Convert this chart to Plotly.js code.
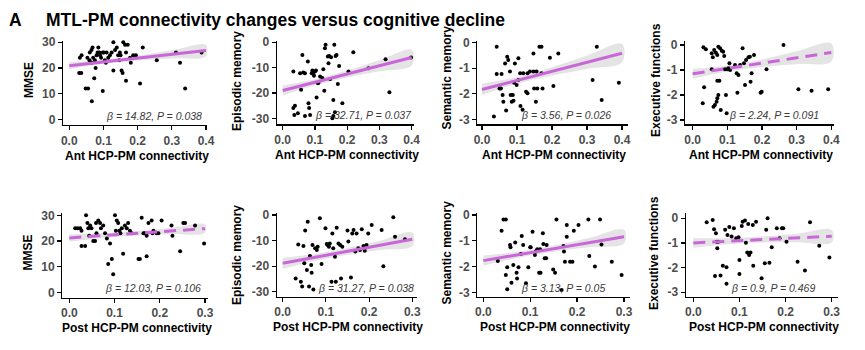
<!DOCTYPE html>
<html>
<head>
<meta charset="utf-8">
<script src="https://cdn.plot.ly/plotly-3.0.1.min.js"></script>
<style>html,body{margin:0;padding:0;background:#fff;}#chart{width:865px;height:350px;}</style>
</head>
<body>
<div id="chart"></div>
<script>
// ---------------- DATA ----------------
// Anterior HCP-PM connectivity (top row)
const ant_mmse_x = [0.031,0.036,0.029,0.035,0.048,0.055,0.053,0.060,0.065,0.068,0.059,0.065,0.070,0.075,0.073,0.066,0.077,0.080,0.083,0.085,0.088,0.090,0.093,0.098,0.098,0.101,0.104,0.107,0.109,0.114,0.119,0.124,0.129,0.129,0.134,0.139,0.143,0.146,0.148,0.150,0.153,0.156,0.158,0.163,0.166,0.166,0.171,0.178,0.180,0.187,0.195,0.207,0.215,0.256,0.312,0.324,0.339,0.387];
const ant_mmse_y = [24,25,18,18,12,12,24,26,27,28,23,22,24,23,16,7,20,25,26,28,26,25,24,11,26,26,23,22,26,24,25,26,30,19,27,28,25,23,26,25,19,18,30,29,15,26,29,24,22,25,25,14,28,23,26,22,12,26];

const ant_epi_x = [0.033,0.033,0.038,0.036,0.047,0.061,0.057,0.054,0.064,0.069,0.078,0.080,0.082,0.085,0.069,0.090,0.092,0.095,0.097,0.100,0.103,0.105,0.109,0.111,0.116,0.123,0.126,0.129,0.131,0.133,0.140,0.142,0.144,0.147,0.150,0.157,0.160,0.162,0.157,0.154,0.164,0.167,0.171,0.175,0.185,0.204,0.219,0.266,0.319,0.331,0.398];
const ant_epi_y = [-11.5,-25.9,-25.0,-28.6,-27.9,-5.0,-18.7,-12.2,-11.9,-12.2,-7.6,-24.0,-25.9,-28.6,-29.0,-12.2,-11.1,-11.9,-13.2,-11.5,-11.1,-21.7,-16.1,-15.9,-13.5,-14.1,-10.6,-19.1,-2.4,-1.0,-5.6,-8.3,-5.4,-14.5,-5.9,-22.7,-1.0,-27.6,-29.0,-29.9,-5.4,-5.0,-16.4,-9.3,-24.0,-11.5,-3.9,-10.2,-6.7,-19.7,-6.0];

const ant_sem_x = [0.042,0.034,0.042,0.056,0.050,0.054,0.059,0.061,0.069,0.066,0.072,0.075,0.080,0.082,0.085,0.088,0.090,0.092,0.094,0.099,0.104,0.104,0.109,0.110,0.116,0.118,0.126,0.130,0.130,0.137,0.147,0.147,0.149,0.154,0.156,0.158,0.164,0.170,0.170,0.173,0.194,0.204,0.218,0.316,0.328,0.342,0.391];
const ant_sem_y = [-0.16,-2.89,-1.23,-1.23,-1.79,-1.79,-2.05,-2.31,-2.66,-0.81,-0.55,-0.68,-1.13,-2.05,-2.31,-2.05,-2.27,-1.57,-0.81,-1.66,-0.61,-1.46,-1.20,-2.48,-2.63,-1.20,-1.92,-1.98,-1.20,-1.13,-1.13,-0.42,-1.79,-2.31,-1.13,-1.79,-0.16,-0.16,-1.20,-1.79,-0.59,-1.70,-0.42,-1.46,-0.16,-2.24,-1.57];

const ant_exe_x = [0.031,0.038,0.033,0.029,0.055,0.058,0.062,0.067,0.071,0.074,0.079,0.084,0.088,0.091,0.055,0.060,0.064,0.069,0.071,0.074,0.071,0.077,0.081,0.093,0.096,0.098,0.100,0.103,0.106,0.108,0.122,0.127,0.129,0.132,0.137,0.144,0.148,0.151,0.154,0.161,0.165,0.167,0.170,0.177,0.196,0.199,0.213,0.262,0.305,0.343,0.391];
const ant_exe_y = [-0.09,-0.17,-1.69,-2.33,-0.33,-0.49,-0.20,-0.31,-0.40,-0.07,-0.13,-0.23,-0.27,-0.44,-0.97,-2.47,-2.40,-2.27,-2.13,-2.00,-1.43,-1.43,-2.60,-0.97,-2.00,-2.73,-0.97,-0.93,-0.73,-1.00,-0.80,-1.13,-1.91,-1.20,-0.80,-0.13,-0.73,-1.60,-0.60,-0.49,-0.47,-1.47,-1.13,-0.40,-1.91,-1.87,-0.97,0.00,-1.77,-1.83,-1.77];

// Posterior HCP-PM connectivity (bottom row)
const post_mmse_x = [0.013,0.018,0.024,0.027,0.027,0.035,0.037,0.040,0.042,0.044,0.046,0.049,0.053,0.057,0.059,0.060,0.064,0.068,0.070,0.075,0.079,0.083,0.086,0.090,0.094,0.097,0.101,0.103,0.105,0.108,0.111,0.113,0.116,0.119,0.123,0.127,0.130,0.134,0.138,0.153,0.156,0.160,0.164,0.167,0.171,0.171,0.175,0.182,0.184,0.186,0.193,0.197,0.204,0.226,0.228,0.245,0.252,0.256,0.278,0.298];
const post_mmse_y = [25,25,25,24,18,18,30,27,25,22,26,25,20,20,27,23,28,27,25,26,23,21,11,19,13,7,30,24,28,27,24,23,25,15,26,25,27,24,23,13,13,29,23,23,14,22,27,28,23,24,23,23,28,26,22,16,27,27,26,19];

const post_epi_x = [0.030,0.036,0.042,0.045,0.048,0.050,0.052,0.056,0.058,0.061,0.063,0.066,0.067,0.069,0.071,0.075,0.079,0.081,0.086,0.090,0.099,0.102,0.104,0.107,0.109,0.113,0.115,0.117,0.121,0.123,0.125,0.129,0.133,0.135,0.138,0.150,0.152,0.158,0.161,0.164,0.168,0.171,0.175,0.179,0.183,0.187,0.190,0.194,0.198,0.206,0.229,0.233,0.256,0.260,0.283];
const post_epi_y = [-24.8,-11.5,-26.1,-28.0,-12.1,-18.9,-6.1,-21.5,-2.6,-28.0,-16.0,-19.6,-22.6,-11.7,-29.1,-13.0,-13.7,-12.4,-1.3,-19.2,-5.2,-11.3,-11.7,-12.4,-11.1,-26.1,-7.2,-13.0,-16.3,-26.1,-5.0,-11.1,-11.7,-24.8,-12.4,-6.1,-10.4,-24.4,-7.2,-5.9,-14.3,-7.2,-13.0,-13.7,-5.6,-12.1,-14.0,-11.7,-7.2,-3.9,-5.9,-20.0,-0.9,-8.5,-9.5];

const post_sem_x = [0.031,0.039,0.043,0.048,0.048,0.051,0.051,0.057,0.058,0.060,0.064,0.068,0.071,0.072,0.075,0.080,0.082,0.085,0.091,0.096,0.100,0.101,0.105,0.110,0.112,0.115,0.119,0.121,0.122,0.127,0.128,0.131,0.134,0.135,0.149,0.153,0.156,0.167,0.171,0.172,0.174,0.178,0.178,0.185,0.190,0.193,0.203,0.224,0.226,0.238,0.249,0.252,0.274,0.295];
const post_sem_y = [-1.78,-0.61,-0.17,-0.17,-2.33,-2.03,-2.88,-1.16,-1.25,-2.63,-1.94,-1.07,-2.24,-2.46,-2.03,-1.51,-0.81,-1.16,-2.65,-2.03,-1.25,-1.25,-0.65,-1.55,-1.42,-1.33,-2.24,-1.33,-2.24,-0.71,-1.13,-1.68,-1.68,-1.16,-2.11,-2.24,-0.17,-2.91,-1.20,-1.42,-1.81,-0.39,-0.84,-1.81,-1.81,-0.61,-0.39,-0.17,-1.59,-2.00,-0.17,-1.14,-1.81,-2.33];

const post_exe_x = [0.029,0.042,0.045,0.047,0.049,0.051,0.052,0.054,0.059,0.064,0.069,0.072,0.072,0.074,0.078,0.083,0.088,0.093,0.098,0.100,0.100,0.105,0.107,0.112,0.114,0.117,0.119,0.121,0.124,0.129,0.130,0.136,0.148,0.155,0.158,0.161,0.165,0.170,0.181,0.187,0.192,0.195,0.202,0.226,0.242,0.253,0.273,0.295];
const post_exe_y = [-0.16,-0.07,-0.45,-2.34,-0.61,-0.95,-1.22,-0.95,-2.32,-1.93,-0.47,-1.99,-2.66,-0.68,-0.36,-0.74,-0.41,-0.81,-0.77,-1.69,-2.26,-0.31,-0.14,-0.09,-0.99,-1.39,-0.23,-1.49,-1.39,-0.27,-1.93,-0.14,-2.43,-1.82,-0.47,0.00,-1.80,-1.18,-0.41,-0.81,-0.41,-0.41,-0.95,-1.76,-2.12,-0.16,-1.12,-1.59];

// Fitted regression lines and 95% CI bands
const fit_x_ant  = [0, 0.1, 0.2, 0.3, 0.4];
const fit_x_post = [0, 0.075, 0.15, 0.225, 0.3];

const fit_ant_mmse = [20.9, 22.4, 23.9, 25.3, 26.8];
const ci_hi_ant_mmse = [22.3, 23.2, 24.9, 26.9, 29.0];
const ci_lo_ant_mmse = [19.5, 21.6, 22.9, 23.7, 24.6];

const fit_ant_epi = [-19.0, -15.75, -12.5, -9.25, -6.0];
const ci_hi_ant_epi = [-17.0, -14.55, -11.1, -7.05, -3.0];
const ci_lo_ant_epi = [-21.0, -16.95, -13.9, -11.45, -9.0];

const fit_ant_sem = [-1.83, -1.475, -1.12, -0.765, -0.41];
const ci_hi_ant_sem = [-1.61, -1.345, -0.96, -0.505, -0.05];
const ci_lo_ant_sem = [-2.05, -1.605, -1.28, -1.025, -0.77];

const fit_ant_exe = [-1.15, -0.94, -0.725, -0.51, -0.30];
const ci_hi_ant_exe = [-0.95, -0.82, -0.575, -0.25, 0.06];
const ci_lo_ant_exe = [-1.35, -1.06, -0.875, -0.77, -0.66];

const fit_post_mmse = [21.2, 22.1, 23.0, 23.9, 24.8];
const ci_hi_post_mmse = [22.6, 23.0, 23.9, 25.1, 26.4];
const ci_lo_post_mmse = [19.8, 21.2, 22.1, 22.7, 23.2];

const fit_post_epi = [-18.9, -16.55, -14.2, -11.85, -9.5];
const ci_hi_post_epi = [-16.7, -15.25, -12.9, -10.05, -6.9];
const ci_lo_post_epi = [-21.1, -17.85, -15.5, -13.65, -12.1];

const fit_post_sem = [-1.77, -1.54, -1.305, -1.07, -0.84];
const ci_hi_post_sem = [-1.57, -1.42, -1.185, -0.89, -0.57];
const ci_lo_post_sem = [-1.97, -1.66, -1.425, -1.25, -1.11];

const fit_post_exe = [-1.0, -0.93, -0.865, -0.80, -0.73];
const ci_hi_post_exe = [-0.8, -0.81, -0.745, -0.63, -0.48];
const ci_lo_post_exe = [-1.2, -1.05, -0.985, -0.97, -0.98];

// Labels
const stat_labels = ["β = 14.82, P = 0.038","β = 32.71, P = 0.037","β = 3.56, P = 0.026","β = 2.24, P = 0.091",
                     "β = 12.03, P = 0.106","β = 31.27, P = 0.038","β = 3.13, P = 0.05","β = 0.9, P = 0.469"];
const significant = [true, true, true, false, false, true, true, false];
const y_titles = ["MMSE","Episodic memory","Semantic memory","Executive functions"];
const x_titles = ["Ant HCP-PM connectivity","Post HCP-PM connectivity"];
const x_ticks_ant = [0, 0.1, 0.2, 0.3, 0.4];
const x_ticklabels_ant = ["0.0","0.1","0.2","0.3","0.4"];
const x_ticks_post = [0, 0.1, 0.2, 0.3];
const x_ticklabels_post = ["0.0","0.1","0.2","0.3"];
const y_ticks_mmse = [0, 10, 20, 30];
const y_ticklabels_mmse = ["0","10","20","30"];
const y_ticks_epi = [0, -10, -20, -30];
const y_ticklabels_epi = ["0","-10","-20","-30"];
const y_ticks_cog = [0, -1, -2, -3];
const y_ticklabels_cog = ["0","-1","-2","-3"];
const fig_title = "MTL-PM connectivity changes versus cognitive decline";
const panel_letter = "A";

// ---------------- LAYOUT (pixels) ----------------
const W = 865, H = 350;
const FONT = "Liberation Sans, Arial, Helvetica, sans-serif";
const MAGENTA = "#C967D8";

const panels = [
  {px:[63,207.3], py:[41,125],   xr:[-0.0184,0.4038], yr:[-2.2,30.5],    xs:ant_mmse_x, ys:ant_mmse_y, fx:fit_x_ant, fy:fit_ant_mmse, hi:ci_hi_ant_mmse, lo:ci_lo_ant_mmse, yt:[y_ticks_mmse,y_ticklabels_mmse], xt:[x_ticks_ant,x_ticklabels_ant], ytl:0, xtl:0, ytc:[29,80],  st:[204,116]},
  {px:[276.7,414.3], py:[41,124.3], xr:[-0.0186,0.4081], yr:[-32.3,0.5], xs:ant_epi_x, ys:ant_epi_y, fx:fit_x_ant, fy:fit_ant_epi, hi:ci_hi_ant_epi, lo:ci_lo_ant_epi, yt:[y_ticks_epi,y_ticklabels_epi], xt:[x_ticks_ant,x_ticklabels_ant], ytl:1, xtl:0, ytc:[237,81], st:[414,115]},
  {px:[477.3,628.3], py:[41,124.3], xr:[-0.0134,0.418], yr:[-3.196,0.067], xs:ant_sem_x, ys:ant_sem_y, fx:fit_x_ant, fy:fit_ant_sem, hi:ci_hi_ant_sem, lo:ci_lo_ant_sem, yt:[y_ticks_cog,y_ticklabels_cog], xt:[x_ticks_ant,x_ticklabels_ant], ytl:2, xtl:0, ytc:[446.5,78], st:[612.7,115]},
  {px:[685,834], py:[41,124.3], xr:[-0.0222,0.4078], yr:[-3.17,0.16], xs:ant_exe_x, ys:ant_exe_y, fx:fit_x_ant, fy:fit_ant_exe, hi:ci_hi_ant_exe, lo:ci_lo_ant_exe, yt:[y_ticks_cog,y_ticklabels_cog], xt:[x_ticks_ant,x_ticklabels_ant], ytl:3, xtl:0, ytc:[656,80], st:[820.7,115]},
  {px:[62.3,208.3], py:[213.3,297.7], xr:[-0.0155,0.3073], yr:[-2.1,30.78], xs:post_mmse_x, ys:post_mmse_y, fx:fit_x_post, fy:fit_post_mmse, hi:ci_hi_post_mmse, lo:ci_lo_post_mmse, yt:[y_ticks_mmse,y_ticklabels_mmse], xt:[x_ticks_post,x_ticklabels_post], ytl:0, xtl:1, ytc:[27.5,253], st:[203.3,288.3]},
  {px:[276.7,416.7], py:[213.3,296.7], xr:[-0.0139,0.3102], yr:[-31.95,0.66], xs:post_epi_x, ys:post_epi_y, fx:fit_x_post, fy:fit_post_epi, hi:ci_hi_post_epi, lo:ci_lo_post_epi, yt:[y_ticks_epi,y_ticklabels_epi], xt:[x_ticks_post,x_ticklabels_post], ytl:1, xtl:1, ytc:[237,255], st:[415.7,288.3]},
  {px:[477.3,630], py:[213.3,296.7], xr:[-0.0128,0.3128], yr:[-3.17,0.066], xs:post_sem_x, ys:post_sem_y, fx:fit_x_post, fy:fit_post_sem, hi:ci_hi_post_sem, lo:ci_lo_post_sem, yt:[y_ticks_cog,y_ticklabels_cog], xt:[x_ticks_post,x_ticklabels_post], ytl:2, xtl:1, ytc:[446.5,253], st:[606.7,288.3]},
  {px:[685.7,838.3], py:[213.3,296.7], xr:[-0.0165,0.3143], yr:[-3.18,0.2], xs:post_exe_x, ys:post_exe_y, fx:fit_x_post, fy:fit_post_exe, hi:ci_hi_post_exe, lo:ci_lo_post_exe, yt:[y_ticks_cog,y_ticklabels_cog], xt:[x_ticks_post,x_ticklabels_post], ytl:3, xtl:1, ytc:[654,253], st:[816.7,288.3]}
];

const traces = [];
const layout = {
  width: W, height: H,
  margin: {l:0, r:0, t:0, b:0},
  paper_bgcolor: "#fff", plot_bgcolor: "#fff",
  showlegend: false,
  font: {family: FONT},
  annotations: [],
  shapes: []
};

const tickFont = {family: FONT, size: 12, color: "#4D4D4D", weight: "bold"};

panels.forEach((p, i) => {
  const k = i === 0 ? "" : String(i + 1);
  const xa = "x" + k, ya = "y" + k;
  layout["xaxis" + k] = {
    domain: [p.px[0] / W, p.px[1] / W], range: p.xr, anchor: ya,
    showgrid: false, zeroline: false, showline: true, linecolor: "#000", linewidth: 1.2,
    ticks: "outside", ticklen: 4, tickwidth: 1.2, tickcolor: "#000",
    tickvals: p.xt[0], ticktext: p.xt[1], tickfont: tickFont, fixedrange: true
  };
  layout["yaxis" + k] = {
    domain: [1 - p.py[1] / H, 1 - p.py[0] / H], range: p.yr, anchor: xa,
    showgrid: false, zeroline: false, showline: true, linecolor: "#000", linewidth: 1.2,
    ticks: "outside", ticklen: 4, tickwidth: 1.2, tickcolor: "#000",
    tickvals: p.yt[0], ticktext: p.yt[1], tickfont: tickFont, fixedrange: true
  };
  // CI band
  traces.push({
    type: "scatter", mode: "lines", xaxis: xa, yaxis: ya,
    x: p.fx.concat(p.fx.slice().reverse()),
    y: p.hi.concat(p.lo.slice().reverse()),
    fill: "toself", fillcolor: "rgba(195,195,195,0.45)", line: {width: 0, shape: "spline"},
    hoverinfo: "skip"
  });
  // points
  traces.push({
    type: "scatter", mode: "markers", xaxis: xa, yaxis: ya,
    x: p.xs, y: p.ys, cliponaxis: false,
    marker: {color: "#000", size: 4}
  });
  // fit line
  traces.push({
    type: "scatter", mode: "lines", xaxis: xa, yaxis: ya,
    x: p.fx, y: p.fy,
    line: {color: MAGENTA, width: 3, dash: significant[i] ? "solid" : "12px,7px"}
  });
  // stats annotation
  layout.annotations.push({
    xref: "paper", yref: "paper", x: p.st[0] / W, y: 1 - p.st[1] / H,
    xanchor: "right", yanchor: "middle", showarrow: false,
    text: stat_labels[i],
    font: {family: FONT, size: 10.5, color: "#3A3A3A", style: "italic"}
  });
  // y title
  layout.annotations.push({
    xref: "paper", yref: "paper", x: p.ytc[0] / W, y: 1 - p.ytc[1] / H,
    xanchor: "center", yanchor: "middle", showarrow: false, textangle: -90,
    text: y_titles[p.ytl],
    font: {family: FONT, size: 12, color: "#000", weight: "bold"}
  });
  // x title
  layout.annotations.push({
    xref: "paper", yref: "paper", x: ((p.px[0] + p.px[1]) / 2 + 1.5) / W,
    y: 1 - (p.py[1] + 30.5) / H,
    xanchor: "center", yanchor: "middle", showarrow: false,
    text: x_titles[p.xtl],
    font: {family: FONT, size: 12, color: "#000", weight: "bold"}
  });
});

// Figure title
layout.annotations.push({
  xref: "paper", yref: "paper", x: 7 / W, y: 1 - 19.5 / H,
  xanchor: "left", yanchor: "middle", showarrow: false,
  text: panel_letter, font: {family: FONT, size: 17.5, color: "#000", weight: "bold"}
});
layout.annotations.push({
  xref: "paper", yref: "paper", x: 44 / W, y: 1 - 19.5 / H,
  xanchor: "left", yanchor: "middle", showarrow: false,
  text: fig_title, font: {family: FONT, size: 17.5, color: "#000", weight: "bold"}
});

Plotly.newPlot("chart", traces, layout, {displayModeBar: false, staticPlot: true});
</script>
</body>
</html>
